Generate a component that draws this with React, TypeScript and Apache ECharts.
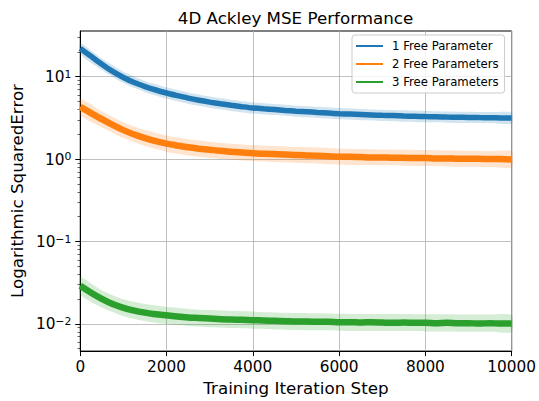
import { useEffect, useRef } from 'react';
import * as echarts from 'echarts';

// Training iteration steps at which the mean curves are sampled
const STEPS = [
  0, 250, 500, 750, 1000, 1250, 1500, 1750, 2000, 2250, 2500, 2750, 3000, 3250, 3500, 3750, 4000,
  4250, 4500, 4750, 5000, 5250, 5500, 5750, 6000, 6250, 6500, 6750, 7000, 7250, 7500, 7750, 8000,
  8250, 8500, 8750, 9000, 9250, 9500, 9750, 10000,
];

// Mean squared error per configuration
const ONE_PARAM = [
  22.0, 17.7, 14.2, 11.6, 9.8, 8.5, 7.6, 6.9, 6.35, 5.9, 5.5, 5.18, 4.92, 4.7, 4.5, 4.33, 4.18,
  4.08, 4.0, 3.9, 3.82, 3.76, 3.68, 3.62, 3.56, 3.52, 3.48, 3.44, 3.4, 3.38, 3.34, 3.31, 3.28,
  3.27, 3.24, 3.22, 3.21, 3.19, 3.18, 3.16, 3.15,
];
const TWO_PARAMS = [
  4.3, 3.62, 3.05, 2.6, 2.25, 1.99, 1.8, 1.65, 1.54, 1.46, 1.39, 1.34, 1.3, 1.26, 1.23, 1.2, 1.18,
  1.16, 1.15, 1.14, 1.12, 1.11, 1.1, 1.08, 1.07, 1.07, 1.06, 1.05, 1.05, 1.04, 1.04, 1.03, 1.03,
  1.02, 1.02, 1.01, 1.01, 1.01, 1.0, 1.0, 0.99,
];
const THREE_PARAMS = [
  0.029, 0.0239, 0.0201, 0.0174, 0.0157, 0.0145, 0.0137, 0.0131, 0.0127, 0.0123, 0.012, 0.0118,
  0.0116, 0.0114, 0.0113, 0.0112, 0.0111, 0.011, 0.0109, 0.0108, 0.0107, 0.0107, 0.0106, 0.0106,
  0.0105, 0.0105, 0.0104, 0.0105, 0.0104, 0.0103, 0.0104, 0.0103, 0.0103, 0.0102, 0.0103, 0.0102,
  0.0102, 0.0101, 0.0102, 0.0101, 0.0101,
];

// Spread envelopes, sampled every 500 steps
const BAND_STEPS = [
  0, 500, 1000, 1500, 2000, 2500, 3000, 3500, 4000, 4500, 5000, 5500, 6000, 6500, 7000, 7500, 8000,
  8500, 9000, 9500, 10000,
];
const ONE_PARAM_HIGH = [
  25.7, 16.6, 11.5, 8.9, 7.43, 6.44, 5.76, 5.27, 4.89, 4.68, 4.47, 4.31, 4.17, 4.07, 3.98, 3.91, 3.84,
  3.79, 3.76, 3.72, 3.69,
];
const ONE_PARAM_LOW = [
  18.8, 12.1, 8.38, 6.5, 5.43, 4.7, 4.21, 3.85, 3.57, 3.42, 3.26, 3.15, 3.04, 2.97, 2.91, 2.85, 2.8,
  2.77, 2.74, 2.72, 2.69,
];
const TWO_PARAMS_HIGH = [
  5.38, 3.81, 2.81, 2.25, 1.93, 1.74, 1.63, 1.54, 1.48, 1.44, 1.4, 1.38, 1.34, 1.33, 1.31, 1.3, 1.29,
  1.28, 1.26, 1.25, 1.24,
];
const TWO_PARAMS_LOW = [
  3.44, 2.44, 1.8, 1.44, 1.23, 1.11, 1.04, 0.984, 0.944, 0.92, 0.896, 0.88, 0.856, 0.848, 0.84, 0.832,
  0.824, 0.816, 0.808, 0.8, 0.792,
];
const THREE_PARAMS_HIGH = [
  0.0368, 0.0255, 0.0199, 0.0174, 0.0161, 0.0152, 0.0147, 0.0144, 0.0141, 0.0138, 0.0136, 0.0135,
  0.0133, 0.0132, 0.0132, 0.0132, 0.0131, 0.0131, 0.013, 0.013, 0.0128,
];
const THREE_PARAMS_LOW = [
  0.0228, 0.0158, 0.0124, 0.0108, 0.01, 0.00945, 0.00913, 0.0089, 0.00874, 0.00858, 0.00843, 0.00835,
  0.00827, 0.00819, 0.00819, 0.00819, 0.00811, 0.00811, 0.00803, 0.00803, 0.00795,
];

const SERIES_NAMES = ['1 Free Parameter', '2 Free Parameters', '3 Free Parameters'];
const X_TICKS = [0, 2000, 4000, 6000, 8000, 10000];
const Y_DECADES = [-2, -1, 0, 1];

const FONT = 'DejaVu Sans';
const Y_MIN = -2.33;
const Y_MAX = 1.555;

// minor log ticks (2..9 x 10^k) inside the visible range
const MINOR_TICKS: number[] = [];
for (let d = -3; d <= 1; d++) {
  for (let k = 2; k <= 9; k++) {
    const v = Math.log10(k) + d;
    if (v >= Y_MIN && v <= Y_MAX) MINOR_TICKS.push(v);
  }
}

const CURVES = [
  { name: SERIES_NAMES[0], color: '#1f77b4', band: 'rgba(31,119,180,0.2)', mean: ONE_PARAM, low: ONE_PARAM_LOW, high: ONE_PARAM_HIGH, width: 5.5 },
  { name: SERIES_NAMES[1], color: '#ff7f0e', band: 'rgba(255,127,14,0.2)', mean: TWO_PARAMS, low: TWO_PARAMS_LOW, high: TWO_PARAMS_HIGH, width: 6.5 },
  { name: SERIES_NAMES[2], color: '#2ca02c', band: 'rgba(44,160,44,0.2)', mean: THREE_PARAMS, low: THREE_PARAMS_LOW, high: THREE_PARAMS_HIGH, width: 6.5 },
];

function decadeLabel(v: number): string {
  const e = Math.round(v);
  const exp = e < 0 ? '\u2212' + String(-e) : String(e);
  return `{b|10}{s|${exp}}`;
}

export default function App() {
  const ref = useRef<HTMLDivElement>(null);

  useEffect(() => {
    if (!ref.current) return;
    const chart = echarts.init(ref.current, undefined, { renderer: 'svg' });

    const bandSeries = CURVES.map((c) => ({
      type: 'custom',
      name: c.name + ' spread',
      silent: true,
      z: 1,
      data: [[0, 0]],
      renderItem: (_params: any, api: any) => {
        const top = c.high.map((v, i) => api.coord([BAND_STEPS[i], Math.log10(v)]));
        const bottom = c.low.map((v, i) => api.coord([BAND_STEPS[i], Math.log10(v)])).reverse();
        return {
          type: 'polygon',
          shape: { points: top.concat(bottom), smooth: 0.2 },
          style: { fill: c.band },
        };
      },
    }));

    const lineSeries = CURVES.map((c) => ({
      type: 'line',
      name: c.name,
      z: 3,
      symbol: 'none',
      showSymbol: false,
      smooth: 0.3,
      data: STEPS.map((x, i) => [x, Math.log10(c.mean[i])]),
      lineStyle: { color: c.color, width: c.width },
      itemStyle: { color: c.color },
    }));

    chart.setOption({
      animation: false,
      grid: {
        left: 79,
        right: 27,
        top: 31,
        bottom: 49.5,
        show: true,
        borderColor: '#000',
        borderWidth: 1,
      },
      graphic: [
        {
          type: 'text',
          x: 295.5,
          y: 17.5,
          style: {
            text: '4D Ackley MSE Performance',
            fontSize: 16.7,
            fontFamily: FONT,
            fill: '#000',
            align: 'center',
            verticalAlign: 'middle',
          },
        },
      ],
      legend: {
        data: SERIES_NAMES,
        orient: 'vertical',
        left: 352,
        top: 35,
        padding: [4, 6, 4, 4],
        itemWidth: 27,
        itemHeight: 2,
        itemGap: 4,
        icon: 'rect',
        itemStyle: { borderWidth: 0 },
        backgroundColor: 'rgba(255,255,255,0.8)',
        borderColor: '#cccccc',
        borderWidth: 1,
        borderRadius: 3,
        textStyle: {
          fontSize: 11.7,
          fontFamily: FONT,
          color: '#000',
          lineHeight: 14,
          padding: [0, 0, 0, 4],
        },
      },
      xAxis: {
        type: 'value',
        min: 0,
        max: 10000,
        interval: 2000,
        name: 'Training Iteration Step',
        nameLocation: 'middle',
        nameGap: 27,
        nameTextStyle: { fontSize: 16.7, fontFamily: FONT, color: '#000' },
        axisLine: { show: true, onZero: false, lineStyle: { color: '#000', width: 1 } },
        axisTick: { show: true, length: 5, lineStyle: { color: '#000', width: 1 } },
        axisLabel: {
          fontSize: 15.3,
          fontFamily: FONT,
          color: '#000',
          margin: 8,
          customValues: X_TICKS,
          formatter: (v: number) => String(v),
        },
        splitLine: { show: true, lineStyle: { color: '#b0b0b0', width: 0.8 } },
      },
      yAxis: [
        {
          type: 'value',
          min: Y_MIN,
          max: Y_MAX,
          position: 'left',
          name: 'Logarithmic SquaredError',
          nameLocation: 'middle',
          nameGap: 52,
          nameTextStyle: { fontSize: 16.7, fontFamily: FONT, color: '#000' },
          axisLine: { show: true, onZero: false, lineStyle: { color: '#000', width: 1 } },
          axisTick: { show: true, length: 5, customValues: Y_DECADES, lineStyle: { color: '#000', width: 1 } },
          axisLabel: {
            customValues: Y_DECADES,
            margin: 9,
            formatter: decadeLabel,
            rich: {
              b: {
                fontSize: 15.3,
                fontFamily: FONT,
                color: '#000',
                lineHeight: 16,
                padding: [2, 0, 0, 0],
                verticalAlign: 'bottom',
              },
              s: {
                fontSize: 10.8,
                fontFamily: FONT,
                color: '#000',
                lineHeight: 11,
                verticalAlign: 'top',
              },
            },
          },
          splitLine: { show: true, lineStyle: { color: '#b0b0b0', width: 0.8 } },
        },
        {
          type: 'value',
          min: Y_MIN,
          max: Y_MAX,
          position: 'left',
          axisLine: { show: false, onZero: false },
          axisTick: { show: true, length: 2.8, customValues: MINOR_TICKS, lineStyle: { color: '#000', width: 0.6 } },
          axisLabel: { show: false },
          splitLine: { show: false },
        },
      ],
      series: [...bandSeries, ...lineSeries],
    });

    return () => chart.dispose();
  }, []);

  return <div ref={ref} style={{ position: 'absolute', left: 0, top: 0, width: 539, height: 401 }} />;
}
